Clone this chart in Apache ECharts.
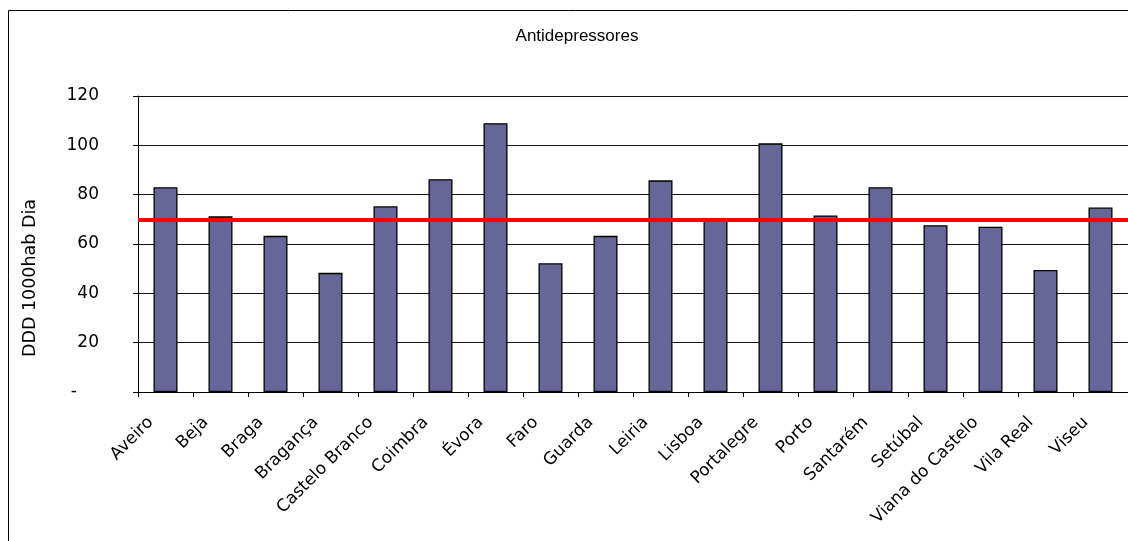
<!DOCTYPE html>
<html>
<head>
<meta charset="utf-8">
<script src="https://cdn.jsdelivr.net/npm/echarts@6/dist/echarts.min.js"></script>
<style>
  html, body { margin: 0; padding: 0; background: #fff; }
  #chart { width: 1128px; height: 541px; }
</style>
</head>
<body>
<div id="chart"></div>
<script>
// Antidepressant consumption by district (DDD per 1000 inhabitants per day)
const districts = ['Aveiro', 'Beja', 'Braga', 'Bragança', 'Castelo Branco', 'Coimbra', 'Évora', 'Faro',
  'Guarda', 'Leiria', 'Lisboa', 'Portalegre', 'Porto', 'Santarém', 'Setúbal', 'Viana do Castelo',
  'Vila Real', 'Viseu'];
const dddValues = [83, 71.2, 63.3, 48.3, 75.3, 86.3, 109, 52.2,
  63.3, 85.8, 69.7, 100.8, 71.6, 83, 67.6, 67, 49.5, 74.8];
const nationalLevel = 70;
const yTicks = { min: 0, max: 120, step: 20 };
const chartTitle = 'Antidepressores';
const yTitle = 'DDD 1000hab Dia';

const axisFont = '"DejaVu Sans", Verdana, sans-serif';
const chart = echarts.init(document.getElementById('chart'), null, { renderer: 'canvas' });

chart.setOption({
  backgroundColor: '#ffffff',
  animation: false,
  grid: { left: 138, right: 0, top: 96, bottom: 149, containLabel: false },
  graphic: [
    {
      type: 'rect', silent: true,
      shape: { x: 8.5, y: 10.5, width: 1200, height: 600 },
      style: { fill: 'none', stroke: '#000', lineWidth: 1 }
    },
    {
      type: 'text', silent: true,
      style: {
        text: chartTitle, x: 577, y: 36, align: 'center', verticalAlign: 'middle',
        font: '17px "Liberation Sans", Arial, sans-serif', fill: '#000'
      }
    },
    {
      type: 'text', silent: true, x: 30, y: 278, rotation: Math.PI / 2,
      style: {
        text: yTitle, x: 0, y: 0, align: 'center', verticalAlign: 'middle',
        font: '17.5px "DejaVu Sans", Verdana, sans-serif', fill: '#000'
      }
    }
  ],
  xAxis: {
    type: 'category',
    data: districts,
    boundaryGap: true,
    axisLine: { show: true, lineStyle: { color: '#000', width: 1 } },
    axisTick: { show: true, alignWithLabel: false, length: 5, lineStyle: { color: '#000' } },
    axisLabel: {
      interval: 0, rotate: 45, margin: 13, color: '#000',
      fontFamily: axisFont, fontSize: 17, padding: [0, 21, 0, 0]
    },
    splitLine: { show: false }
  },
  yAxis: {
    type: 'value',
    min: yTicks.min, max: yTicks.max, interval: yTicks.step,
    axisLine: { show: true, lineStyle: { color: '#000', width: 1 } },
    axisTick: { show: true, inside: false, length: 5, lineStyle: { color: '#000' } },
    axisLabel: {
      margin: 39, color: '#000', fontFamily: axisFont, fontSize: 17,
      formatter: v => (v === 0 ? '{d|-}' : String(v)),
      rich: { d: { fontFamily: axisFont, fontSize: 17, color: '#000', padding: [0, 22, 0, 0] } }
    },
    splitLine: { show: true, lineStyle: { color: '#111', width: 1 } }
  },
  series: [
    {
      type: 'bar',
      data: dddValues,
      barWidth: 24,
      itemStyle: { color: '#666699', borderColor: '#000', borderWidth: 1.3 },
      markLine: {
        silent: true,
        symbol: ['none', 'none'],
        label: { show: false },
        lineStyle: { color: '#ff0000', width: 4, type: 'solid' },
        data: [{ yAxis: nationalLevel }]
      }
    }
  ]
});
</script>
</body>
</html>
